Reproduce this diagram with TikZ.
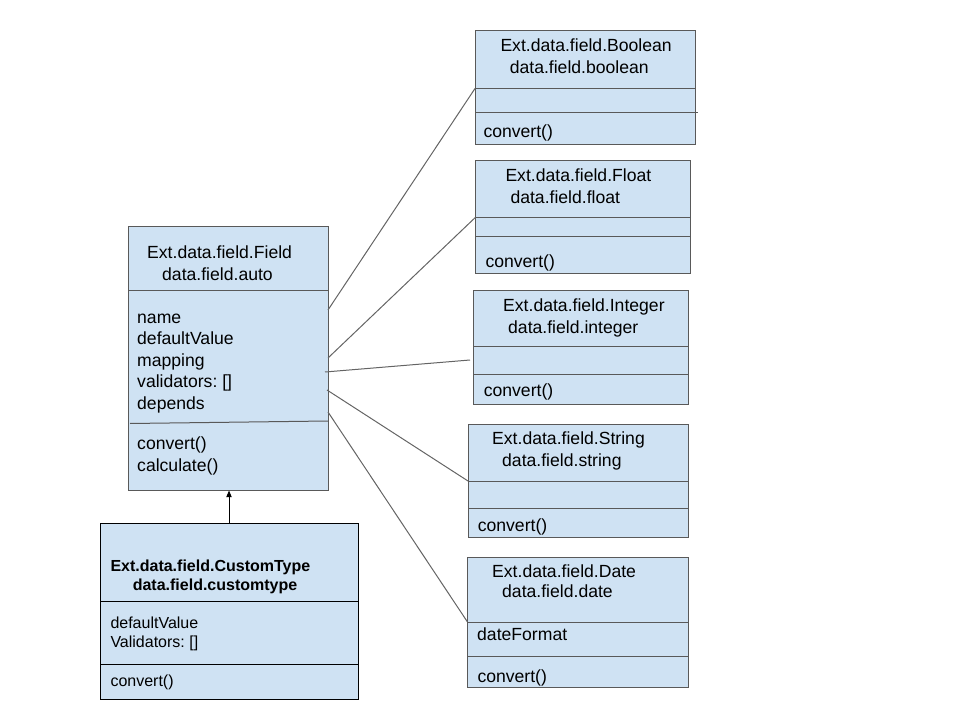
\documentclass[tikz,border=0pt]{standalone}
\usepackage{fontspec}
\setmainfont{Liberation Sans}
\usetikzlibrary{arrows.meta}
\frenchspacing

\tikzset{every picture/.style={line width=0.75pt}}
\tikzset{
  classbox/.style={draw={rgb, 255:red, 89; green, 89; blue, 89 }, fill={rgb, 255:red, 207; green, 226; blue, 243 }},
  custombox/.style={draw=black, fill={rgb, 255:red, 207; green, 226; blue, 243 }},
  rule/.style={draw={rgb, 255:red, 89; green, 89; blue, 89 }},
  link/.style={draw={rgb, 255:red, 100; green, 100; blue, 100 }},
  txt/.style={anchor=base west, inner sep=0pt, font=\fontsize{13.2}{16}\selectfont},
  ctxt/.style={anchor=base west, inner sep=0pt, font=\fontsize{12}{15}\selectfont},
}

\begin{document}
\begin{tikzpicture}[x=0.75pt,y=0.75pt,yscale=-1,xscale=1]
		\useasboundingbox (0,0) rectangle (960,720); %set diagram 960 x 720
		
		%Shape: Rectangle [id:field]
		\draw [classbox] (128,227) -- (328,227) -- (328,490) -- (128,490) -- cycle ;
		\draw [rule] (128,291) -- (328,291) ;
		\draw [rule] (130,423.5) -- (328,421) ;
		%Shape: Rectangle [id:custom]
		\draw [custombox] (100,523) -- (358,523) -- (358,699) -- (100,699) -- cycle ;
		\draw (100,601) -- (358,601) ;
		\draw (100,664) -- (358,664) ;
		%Shape: Rectangle [id:boolean]
		\draw [classbox] (475,30.5) -- (695.5,30.5) -- (695.5,144.5) -- (475,144.5) -- cycle ;
		\draw [rule] (475,88.5) -- (695.5,88.5) ;
		\draw [rule] (475,112.7) -- (698,112.7) ;
		%Shape: Rectangle [id:float]
		\draw [classbox] (475.5,160.5) -- (690.7,160.5) -- (690.7,273.5) -- (475.5,273.5) -- cycle ;
		\draw [rule] (475.5,217.3) -- (690.7,217.3) ;
		\draw [rule] (475.5,237) -- (690.7,237) ;
		%Shape: Rectangle [id:integer]
		\draw [classbox] (473,290.5) -- (688.5,290.5) -- (688.5,404) -- (473,404) -- cycle ;
		\draw [rule] (473,346.7) -- (688.5,346.7) ;
		\draw [rule] (473,374.5) -- (688.5,374.5) ;
		%Shape: Rectangle [id:string]
		\draw [classbox] (468,424) -- (688,424) -- (688,537) -- (468,537) -- cycle ;
		\draw [rule] (468,481) -- (688,481) ;
		\draw [rule] (468,508) -- (688,508) ;
		%Shape: Rectangle [id:date]
		\draw [classbox] (467.5,557.5) -- (688,557.5) -- (688,687) -- (467.5,687) -- cycle ;
		\draw [rule] (467.5,622) -- (688,622) ;
		\draw [rule] (467.5,656) -- (688,656) ;
		
		%connector ends
		\coordinate (fldB) at (328,310) ;
		\coordinate (fldF) at (328,358) ;
		\coordinate (fldI) at (325,372) ;
		\coordinate (fldS) at (327,390) ;
		\coordinate (fldD) at (328,412) ;
		\coordinate (fldBot) at (229,490.5) ;
		\coordinate (boolIn) at (475,88.5) ;
		\coordinate (floatIn) at (475.5,217.3) ;
		\coordinate (intIn) at (470,360) ;
		\coordinate (strIn) at (468,481) ;
		\coordinate (dateIn) at (467.5,622) ;
		\coordinate (ctTop) at (229,523) ;
		
		\draw [link] (fldB) -- (boolIn) ;
		\draw [link] (fldF) -- (floatIn) ;
		\draw [link] (fldI) -- (intIn) ;
		\draw [link] (fldS) -- (strIn) ;
		\draw [link] (fldD) -- (dateIn) ;
		\draw [-{Triangle[length=5pt,width=4pt]}] (ctTop) -- (fldBot) ;
		
		%Field
		\draw (146.7,259) node [txt] (fldT1) {Ext.data.field.Field};
		\draw (161.7,281) node [txt] (fldT2) {data.field.auto};
		\draw (136.7,323) node [txt] (fldA1) {name};
		\draw (136.7,344.5) node [txt] (fldA2) {defaultValue};
		\draw (136.7,366) node [txt] (fldA3) {mapping};
		\draw (136.7,387.5) node [txt] (fldA4) {validators: []};
		\draw (136.7,409) node [txt] (fldA5) {depends};
		\draw (136.7,449.5) node [txt] (fldM1) {convert()};
		\draw (136.7,471) node [txt] (fldM2) {calculate()};
		%CustomType
		\draw (110,571.7) node [ctxt, font=\fontsize{12}{15}\selectfont\bfseries] (ctT1) {Ext.data.field.CustomType};
		\draw (132.3,590.7) node [ctxt, font=\fontsize{12}{15}\selectfont\bfseries] (ctT2) {data.field.customtype};
		\draw (110,628.5) node [ctxt] (ctA1) {defaultValue};
		\draw (110,647) node [ctxt] (ctA2) {Validators: []};
		\draw (110,686) node [ctxt] (ctM1) {convert()};
		%Boolean
		\draw (500,51.7) node [txt] (boolT1) {Ext.data.field.Boolean};
		\draw (509.3,73.3) node [txt] (boolT2) {data.field.boolean};
		\draw (483,137.7) node [txt] (boolM1) {convert()};
		%Float
		\draw (505,181.7) node [txt] (floatT1) {Ext.data.field.Float};
		\draw (510,203.3) node [txt] (floatT2) {data.field.float};
		\draw (485,267.3) node [txt] (floatM1) {convert()};
		%Integer
		\draw (502.7,311.7) node [txt] (intT1) {Ext.data.field.Integer};
		\draw (507.7,333.3) node [txt] (intT2) {data.field.integer};
		\draw (483.3,396.5) node [txt] (intM1) {convert()};
		%String
		\draw (491.7,444.7) node [txt] (strT1) {Ext.data.field.String};
		\draw (501.7,466.3) node [txt] (strT2) {data.field.string};
		\draw (477.3,531) node [txt] (strM1) {convert()};
		%Date
		\draw (491.7,577) node [txt] (dateT1) {Ext.data.field.Date};
		\draw (501.7,597) node [txt] (dateT2) {data.field.date};
		\draw (476.7,640.3) node [txt] (dateA1) {dateFormat};
		\draw (477,682.5) node [txt] (dateM1) {convert()};
		
\end{tikzpicture}
\end{document}
